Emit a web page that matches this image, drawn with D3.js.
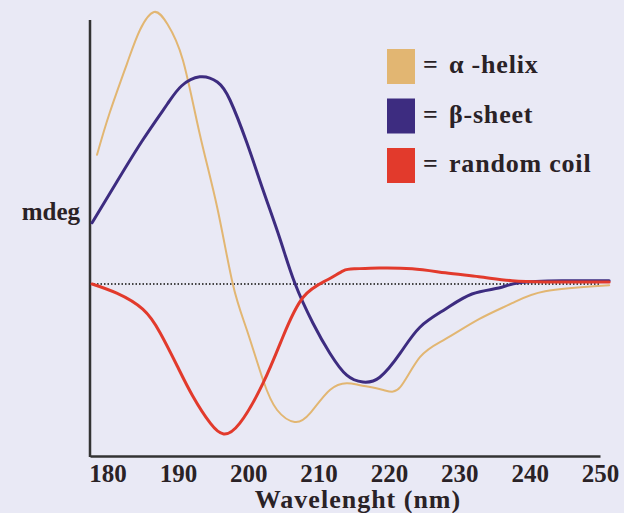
<!DOCTYPE html>
<html>
<head>
<meta charset="utf-8">
<script src="https://cdn.jsdelivr.net/npm/d3@7"></script>
<style>
  html, body { margin: 0; padding: 0; background: #e9e9f5; }
  svg { display: block; }
  text { font-family: "Liberation Serif", "Times New Roman", serif; font-weight: bold; fill: #2a2226; }
</style>
</head>
<body>
<div id="chart"></div>
<script>
// wavelength (nm) and signal (mdeg, arbitrary units)
var alphaWl = [178.5, 180.3, 182.8, 184.6, 186.6, 188.5, 190.7, 193.1, 195.6, 197.8, 199.8, 202.1, 204.1, 206.6, 208.8, 211.6, 214.0, 215.9, 219.2, 221.6, 224.4, 228.0, 232.8, 237.5, 242.2, 251.3]
var alphaMdeg = [32.3, 42.8, 55.3, 63.5, 68, 65, 56, 37.5, 19, 0, -11.5, -24, -31.5, -34.5, -32.3, -26.5, -24.8, -25.3, -26.5, -25.8, -18.3, -13.8, -8.8, -4.8, -1.8, -0.3]

var betaWl = [177.8, 181.3, 185.0, 188.5, 190.5, 193.1, 195.6, 197.4, 199.8, 202.1, 204.5, 206.6, 209.2, 211.6, 214.0, 216.3, 218.7, 221.6, 224.4, 228.0, 231.8, 235.6, 238.5, 244.6, 251.3]
var betaMdeg = [15.3, 25.5, 36, 45, 49.5, 51.8, 50.5, 46, 35.3, 23.5, 11.3, 0.3, -9.8, -17.3, -22.8, -24.5, -23.3, -17.3, -10.8, -6.3, -2.5, -1, 0.3, 0.8, 0.8]

var coilWl = [177.8, 181.3, 185.0, 187.5, 189.9, 192.1, 194.6, 196.5, 198.8, 202.1, 204.9, 207.8, 211.2, 213.5, 215.2, 218.6, 223.3, 228.0, 232.8, 237.5, 242.2, 251.3]
var coilMdeg = [0, -2.3, -6.3, -12.3, -20.5, -28, -34.8, -37.5, -34.8, -24.8, -13.3, -3.3, 1, 3.3, 3.8, 4, 3.8, 2.8, 1.8, 0.8, 0.5, 0.5]

var xTicks = [180, 190, 200, 210, 220, 230, 240, 250]
var names = ['α -helix', 'β-sheet', 'random coil']
var colors = ['#e2b672', '#3d2c80', '#e23a2c']

var width = 624, height = 513

var svg = d3.select('#chart')
    .append('svg')
    .attr('width', width)
    .attr('height', height)

var x = d3.scaleLinear().domain([177.5, 250]).range([90, 600])
var y = d3.scaleLinear().domain([-43, 66]).range([456, 20])

// zero line (dotted)
svg.append('line')
    .attr('x1', x(177.5)).attr('x2', x(250))
    .attr('y1', y(0)).attr('y2', y(0))
    .attr('stroke', '#444')
    .attr('stroke-width', 2)
    .attr('stroke-dasharray', '1.5,2')

// axes, no ticks
var xAxis = d3.axisBottom(x).tickValues(xTicks).tickSize(0).tickPadding(8)
var gx = svg.append('g')
    .attr('transform', `translate(0,${y(-43)})`)
    .call(xAxis)
gx.select('.domain').attr('stroke', '#333').attr('stroke-width', 2.5)
gx.selectAll('text')
    .attr('font-family', '"Liberation Serif", serif')
    .attr('font-weight', 'bold')
    .attr('font-size', 25)
    .attr('fill', '#2a2226')

svg.append('line')
    .attr('x1', x(177.5)).attr('x2', x(177.5))
    .attr('y1', y(66)).attr('y2', y(-43) + 1)
    .attr('stroke', '#333')
    .attr('stroke-width', 2.5)

svg.append('text')
    .attr('x', 358).attr('y', 508)
    .attr('text-anchor', 'middle')
    .attr('font-size', 26)
    .style('letter-spacing', '1px')
    .text('Wavelenght (nm)')

svg.append('text')
    .attr('x', 80).attr('y', 220)
    .attr('text-anchor', 'end')
    .attr('font-size', 25)
    .text('mdeg')

// curves
var series = [
    { wl: alphaWl, mdeg: alphaMdeg, width: 2 },
    { wl: betaWl, mdeg: betaMdeg, width: 3 },
    { wl: coilWl, mdeg: coilMdeg, width: 3 }
]

var line = d3.line()
    .x(function (d) { return x(d[0]) })
    .y(function (d) { return y(d[1]) })
    .curve(d3.curveNatural)

series.forEach(function (s, i) {
    svg.append('path')
        .datum(d3.zip(s.wl, s.mdeg))
        .attr('d', line)
        .attr('fill', 'none')
        .attr('stroke', colors[i])
        .attr('stroke-width', s.width)
        .attr('stroke-linecap', 'round')
})

// legend
var legend = svg.append('g').attr('transform', 'translate(387,49)')
var rows = legend.selectAll('g')
    .data(names)
    .enter()
    .append('g')
    .attr('transform', function (d, i) { return `translate(0,${i * 49.5})` })

rows.append('rect')
    .attr('width', 28).attr('height', 35)
    .attr('fill', function (d, i) { return colors[i] })

rows.append('text')
    .attr('x', 36).attr('y', 24)
    .attr('font-size', 26)
    .text('=')

rows.append('text')
    .attr('x', 62).attr('y', 24)
    .attr('font-size', 26)
    .style('letter-spacing', '0.8px')
    .text(function (d) { return d })
</script>
</body>
</html>
